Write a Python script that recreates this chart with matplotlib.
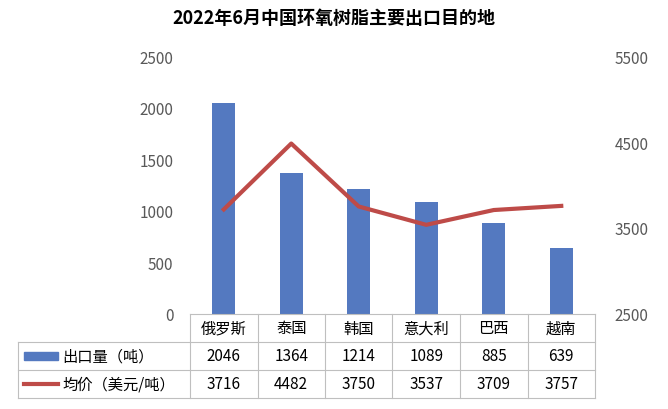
import matplotlib
matplotlib.use("Agg")
import matplotlib.pyplot as plt
from matplotlib.transforms import blended_transform_factory
from matplotlib.lines import Line2D
from matplotlib import font_manager

names = {f.name for f in font_manager.fontManager.ttflist}
cjk = [n for n in ["Noto Sans CJK SC", "Noto Sans CJK JP", "Noto Sans CJK TC", "Noto Sans CJK KR"] if n in names]
plt.rcParams["font.family"] = cjk + ["DejaVu Sans"] if cjk else ["DejaVu Sans"]

categories = ["俄罗斯", "泰国", "韩国", "意大利", "巴西", "越南"]
volume = [2046, 1364, 1214, 1089, 885, 639]
price = [3716, 4482, 3750, 3537, 3709, 3757]
series_names = ["出口量（吨）", "均价（美元/吨）"]
title = "2022年6月中国环氧树脂主要出口目的地"

W, H = 668, 410
fig = plt.figure(figsize=(W/100, H/100), dpi=100)
L, R, T, B = 190, 595, 57, 315
ax = fig.add_axes([L/W, 1-B/H, (R-L)/W, (B-T)/H])
x = list(range(len(categories)))
bar_c, line_c, grid_c = "#5479C0", "#BE4B48", "#BFBFBF"
ax.bar(x, volume, width=0.34, color=bar_c)
ax.set_xlim(-0.5, len(categories)-0.5)
ax.set_ylim(0, 2500)
ax.set_yticks(range(0, 2501, 500))
ax.set_xticks([])
ax2 = ax.twinx()
ax2.plot(x, price, color=line_c, lw=3)
ax2.set_ylim(2500, 5500)
ax2.set_yticks(range(2500, 5501, 1000))
for a in (ax, ax2):
    for s in a.spines.values():
        s.set_visible(False)
    a.tick_params(length=0, labelsize=11, colors="#595959")
ax.tick_params(axis="y", pad=12)
ax2.tick_params(axis="y", pad=14)

fig.text(0.5, 1-18/H, title, ha="center", va="center", fontsize=13, fontweight="bold")

rows = [B, 343, 371, 399]
left = 18
def fy(py): return 1-py/H
def fx(px): return px/W
for py in rows:
    fig.add_artist(Line2D([fx(left if py != B else L), fx(R)], [fy(py)]*2, color=grid_c, lw=0.8))
fig.add_artist(Line2D([fx(left)]*2, [fy(343), fy(399)], color=grid_c, lw=0.8))
colw = (R-L)/len(categories)
for i in range(len(categories)+1):
    px = L + i*colw
    fig.add_artist(Line2D([fx(px)]*2, [fy(B), fy(399)], color=grid_c, lw=0.8))
for i, c in enumerate(categories):
    cx = fx(L + (i+0.5)*colw)
    fig.text(cx, fy(329), c, ha="center", va="center", fontsize=11)
    fig.text(cx, fy(357), str(volume[i]), ha="center", va="center", fontsize=11)
    fig.text(cx, fy(385), str(price[i]), ha="center", va="center", fontsize=11)
fig.add_artist(plt.Rectangle((fx(24), fy(361)), fx(34), 8/H, color=bar_c))
fig.add_artist(Line2D([fx(24), fx(58)], [fy(385)]*2, color=line_c, lw=3))
fig.text(fx(62), fy(357), series_names[0], ha="left", va="center", fontsize=11)
fig.text(fx(62), fy(385), series_names[1], ha="left", va="center", fontsize=11)
fig.savefig("out.png", dpi=100)
